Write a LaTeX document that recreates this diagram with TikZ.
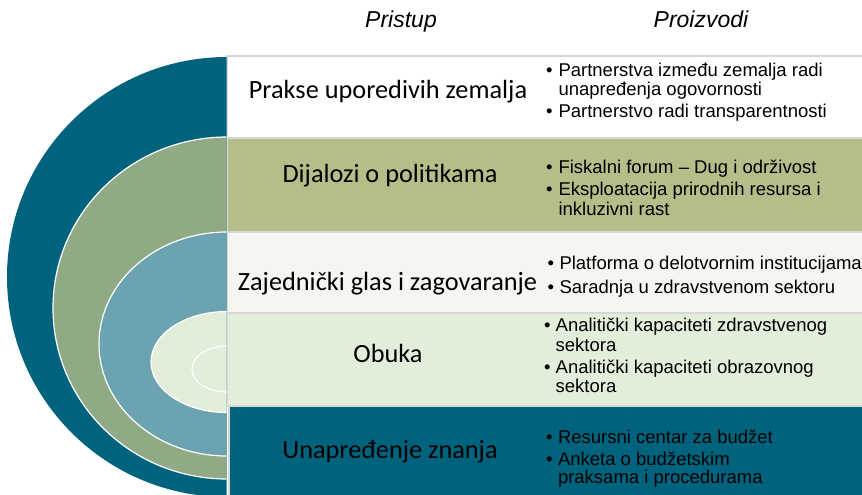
\documentclass[tikz,border=0pt]{standalone}
\usepackage{fontspec}
\newfontfamily\calib{Carlito}
\newfontfamily\arialf{Liberation Sans}
\definecolor{dteal}{RGB}{0,99,126}
\definecolor{sage}{RGB}{143,170,132}
\definecolor{lteal}{RGB}{107,164,176}
\definecolor{lgreen}{RGB}{226,238,217}
\definecolor{olive}{RGB}{181,189,137}
\definecolor{offw}{RGB}{245,246,241}
\definecolor{rowline}{RGB}{215,215,215}
\tikzset{
  rowbox/.style={draw=rowline, line width=1.3pt},
  lab/.style={font=\calib\fontsize{26.3}{30}\selectfont, anchor=base, inner sep=0pt, text=black},
  head/.style={font=\arialf\itshape\fontsize{23}{26}\selectfont, anchor=base, inner sep=0pt},
  rt/.style={font=\arialf\fontsize{18.5}{21}\selectfont, anchor=base west, inner sep=0pt, text=black},
  ring/.style={draw=white, line width=1.2pt}
}
\begin{document}
\begin{tikzpicture}[x=1pt,y=-1pt]
\useasboundingbox (0,0) rectangle (862,495);
\clip (0,0) rectangle (862,495);
% rows
\draw[rowbox, fill=white] (227,56) rectangle (880,138);
\draw[rowbox, fill=olive] (227,138) rectangle (880,232);
\draw[rowbox, fill=offw] (227,232) rectangle (880,313);
\draw[rowbox, fill=lgreen] (227,313) rectangle (880,406);
\draw[rowbox, fill=dteal] (229,406) rectangle (880,510);
% semicircles
\begin{scope}
\clip (0,0) rectangle (226.5,495);
\fill[dteal] (227,277) ellipse [x radius=220, y radius=220];
\filldraw[ring, fill=sage] (227,308) ellipse [x radius=174, y radius=171];
\filldraw[ring, fill=lteal] (227,344) ellipse [x radius=128, y radius=112];
\filldraw[ring, fill=lgreen] (227,362) ellipse [x radius=76, y radius=50.5];
\draw[ring] (227,369) ellipse [x radius=35, y radius=23];
\end{scope}
% headers
\node[head] (h1) at (401,28) {Pristup};
\node[head] (h2) at (701,28) {Proizvodi};
% left labels
\node[lab] (l1) at (388,98) {Prakse uporedivih zemalja};
\node[lab] (l2) at (390,182) {Dijalozi o politikama};
\node[lab] (l3) at (387.5,290) {Zajednički glas i zagovaranje};
\node[lab] (l4) at (388,362) {Obuka};
\node[lab] (l5) at (390,458) {Unapređenje znanja};
% row 1 items
\node[rt] (b1a) at (546,76.7) {•};
\node[rt] (t1a) at (558.3,76.7) {Partnerstva između zemalja radi};
\node[rt] (t1b) at (558.3,95.9) {unapređenja ogovornosti};
\node[rt] (b1c) at (546,117.7) {•};
\node[rt] (t1c) at (558.3,117.7) {Partnerstvo radi transparentnosti};
% row 2 items
\node[rt] (b2a) at (546,173.3) {•};
\node[rt] (t2a) at (558.3,173.3) {Fiskalni forum – Dug i održivost};
\node[rt] (b2b) at (546,195.5) {•};
\node[rt] (t2b) at (558.3,195.5) {Eksploatacija prirodnih resursa i};
\node[rt] (t2c) at (558.3,215) {inkluzivni rast};
% row 3 items
\node[rt] (b3a) at (547.5,269.3) {•};
\node[rt] (t3a) at (559.3,269.3) {Platforma o delotvornim institucijama};
\node[rt] (b3b) at (547.5,293) {•};
\node[rt] (t3b) at (559.3,293) {Saradnja u zdravstvenom sektoru};
% row 4 items
\node[rt] (b4a) at (544,331.7) {•};
\node[rt] (t4a) at (555.5,331.7) {Analitički kapaciteti zdravstvenog};
\node[rt] (t4b) at (555.5,351) {sektora};
\node[rt] (b4c) at (544,373.3) {•};
\node[rt] (t4c) at (555.5,373.3) {Analitički kapaciteti obrazovnog};
\node[rt] (t4d) at (555.5,392.5) {sektora};
% row 5 items
\node[rt] (b5a) at (546,443.3) {•};
\node[rt] (t5a) at (557.8,443.3) {Resursni centar za budžet};
\node[rt] (b5b) at (546,465) {•};
\node[rt] (t5b) at (557.8,465) {Anketa o budžetskim};
\node[rt] (t5c) at (557.8,483.5) {praksama i procedurama};
\end{tikzpicture}
\end{document}
